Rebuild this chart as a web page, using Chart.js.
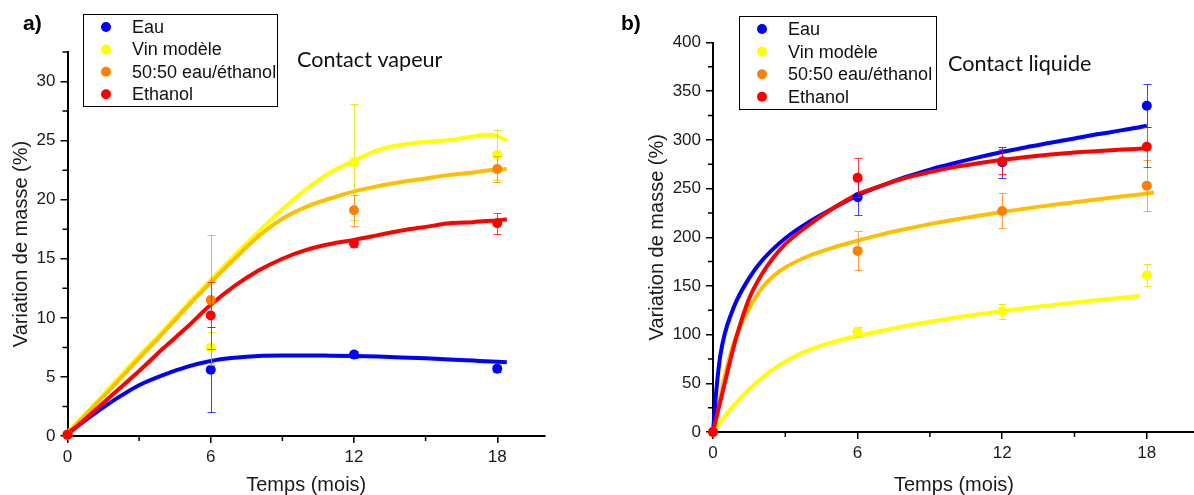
<!DOCTYPE html>
<html>
<head>
<meta charset="utf-8">
<script src="https://cdn.jsdelivr.net/npm/chart.js@4.4.0/dist/chart.umd.min.js"></script>
<style>
html, body { margin: 0; padding: 0; background: #fff; overflow: hidden; }
#wrap { position: relative; width: 1194px; height: 495px; }
.panel { position: absolute; top: 0; width: 600px; height: 495px; }
#panelA { left: 0; }
#panelB { left: 600px; }
</style>
</head>
<body>
<div id="wrap">
  <div class="panel" id="panelA"><canvas id="chartA" width="600" height="495"></canvas></div>
  <div class="panel" id="panelB"><canvas id="chartB" width="600" height="495"></canvas></div>
</div>
<script>
// ---- data ----
const seriesNames = ['Eau', 'Vin modèle', '50:50 eau/éthanol', 'Ethanol'];
const months = [0, 6, 12, 18];
const xTicks = [0, 6, 12, 18];
const xMinorTicks = [3, 9, 15];

// a) Contact vapeur - measured points and error bars
const vapEau = [0.1, 5.6, 6.9, 5.7];
const vapVin = [0.1, 7.5, 23.2, 23.8];
const vapMix = [0.1, 11.5, 19.1, 22.6];
const vapEth = [0.1, 10.2, 16.3, 18.0];
const vapEauErr = [0, 3.6, 0.3, 0.3];
const vapVinErr = [0, 1.3, 4.9, 2.1];
const vapMixErr = [0, 5.5, 1.3, 1.1];
const vapEthErr = [0, 2.8, 0.3, 0.9];

// a) fitted curves
const fitMonthsA = [0, 1, 2, 3, 4, 5, 6, 7, 8, 9, 10, 11, 12, 13, 14, 15, 16, 17, 17.5, 18, 18.4];
const fitVapEau = [0.2, 1.7, 3.1, 4.3, 5.15, 5.85, 6.35, 6.62, 6.78, 6.82, 6.82, 6.8, 6.77, 6.72, 6.65, 6.57, 6.48, 6.38, 6.33, 6.28, 6.24];
const fitVapVin = [0.3, 2.4, 4.6, 6.8, 8.9, 11.1, 13.2, 15.3, 17.3, 19.2, 20.9, 22.3, 23.3, 24.2, 24.65, 24.9, 25.05, 25.35, 25.5, 25.4, 25.0];
const fitVapMix = [0.2, 2.3, 4.4, 6.6, 8.7, 10.9, 13.0, 15.0, 16.9, 18.4, 19.4, 20.1, 20.7, 21.15, 21.5, 21.8, 22.1, 22.3, 22.45, 22.55, 22.6];
const fitVapEth = [0.1, 1.9, 3.7, 5.5, 7.4, 9.2, 11.1, 12.7, 14.0, 15.0, 15.75, 16.25, 16.6, 17.0, 17.4, 17.7, 18.0, 18.1, 18.2, 18.25, 18.35];

const yTicksA = [0, 5, 10, 15, 20, 25, 30];
const yMinorA = [2.5, 7.5, 12.5, 17.5, 22.5, 27.5, 32.5];

// b) Contact liquide - measured points and error bars
const liqEau = [0, 241, 277, 335];
const liqVin = [0, 103, 124, 161];
const liqMix = [0, 186, 227, 253];
const liqEth = [0, 261, 278, 293];
const liqEauErr = [0, 18, 16, 22];
const liqVinErr = [0, 5, 7.5, 11.5];
const liqMixErr = [0, 20, 18, 26.5];
const liqEthErr = [0, 20, 13, 20.5];

// b) fitted curves
const fitMonthsB = [0, 0.15, 0.3, 0.5, 0.75, 1, 1.5, 2, 2.5, 3, 4, 5, 6, 7, 8, 9, 10, 11, 12, 13, 14, 15, 16, 17, 17.7, 18, 18.3];
const fitLiqEau = [0, 46, 78, 102, 121, 136, 158, 175, 188, 199, 216, 230, 243, 253, 262, 269.5, 276, 282, 287.5, 292.5, 297, 301.5, 306, 310, 313, 314.5, null];
const fitLiqVin = [0, 5, 10, 16.5, 24, 31, 44, 55, 64.5, 72.5, 84.5, 92.5, 98.5, 104, 109, 113.3, 117.3, 121, 124.3, 127.4, 130.3, 133, 135.5, 138, 139.8, null, null];
const fitLiqMix = [0, 18, 36, 58, 82, 101, 127, 147, 160, 169, 181, 189.5, 196.5, 203, 208.5, 213.5, 218, 222, 226, 229.5, 233, 236, 239, 242, 244, 245, 246];
const fitLiqEth = [0, 15.5, 31, 51.5, 77, 100, 137, 161, 179, 193, 213, 230, 244, 253, 261, 267, 272, 276, 279.5, 282.5, 285, 287, 288.5, 290, 291, 291.5, null];

const yTicksB = [0, 50, 100, 150, 200, 250, 300, 350, 400];
const yMinorB = [25, 75, 125, 175, 225, 275, 325, 375];

// ---- styles ----
const markerColors = ['#0000ff', '#ffff00', '#ff8000', '#ff0000'];
const curveColors = ['#0000ff', '#ffff00', '#ffbf00', '#ff0000'];
const errColors = ['rgba(0,0,255,0.75)', 'rgba(235,225,0,0.85)', 'rgba(255,128,0,0.7)', 'rgba(255,0,0,0.75)'];
const curveOrder = [7, 9, 8, 6];   // red on top, yellow at the back
const FONT = "'Liberation Sans', Arial, sans-serif";

function toPoints(xs, ys) {
    return xs.map((x, i) => (ys[i] == null ? null : { x: x, y: ys[i] })).filter(Boolean);
}

function buildDatasets(fitMonths, fits, values, errs) {
    const out = [];
    fits.forEach((f, i) => {
        out.push({
            label: seriesNames[i] + ' (fit)',
            data: toPoints(fitMonths, f),
            showLine: true,
            borderColor: curveColors[i],
            borderWidth: 4,
            pointRadius: 0,
            cubicInterpolationMode: 'monotone',
            order: curveOrder[i],
            clip: false
        });
    });
    values.forEach((v, i) => {
        out.push({
            label: seriesNames[i],
            data: toPoints(months, v),
            errors: errs[i],
            errorColor: errColors[i],
            showLine: false,
            pointRadius: 5,
            pointBorderWidth: 0,
            pointBackgroundColor: markerColors[i],
            order: 4 - i,
            clip: false
        });
    });
    return out;
}

// error bars are drawn just before each point dataset (over the curves)
const errorBars = {
    id: 'errorBars',
    beforeDatasetDraw(chart, args) {
        const ds = chart.data.datasets[args.index];
        if (!ds.errors) return;
        const ctx = chart.ctx;
        const xs = chart.scales.x, ys = chart.scales.y;
        ctx.save();
        ctx.strokeStyle = ds.errorColor;
        ctx.lineWidth = 1;
        ds.data.forEach((p, i) => {
            const e = ds.errors[i];
            if (!e) return;
            const px = Math.round(xs.getPixelForValue(p.x)) + 0.5;
            const top = Math.round(ys.getPixelForValue(p.y + e)) + 0.5;
            const bot = Math.round(ys.getPixelForValue(p.y - e)) + 0.5;
            ctx.beginPath();
            ctx.moveTo(px, top); ctx.lineTo(px, bot);
            ctx.moveTo(px - 4, top); ctx.lineTo(px + 4, top);
            ctx.moveTo(px - 4, bot); ctx.lineTo(px + 4, bot);
            ctx.stroke();
        });
        ctx.restore();
    }
};

// minor ticks, legend box, panel letter and note
const decor = {
    id: 'decor',
    afterDraw(chart, args, opts) {
        const ctx = chart.ctx;
        const area = chart.chartArea;
        const xs = chart.scales.x, ys = chart.scales.y;
        ctx.save();
        ctx.strokeStyle = '#000';
        ctx.lineWidth = 1.5;
        ctx.beginPath();
        opts.yMinor.forEach(v => {
            const py = ys.getPixelForValue(v);
            ctx.moveTo(area.left - 5, py); ctx.lineTo(area.left, py);
        });
        xMinorTicks.forEach(v => {
            const px = xs.getPixelForValue(v);
            ctx.moveTo(px, area.bottom); ctx.lineTo(px, area.bottom + 5);
        });
        ctx.stroke();

        // legend
        const lg = opts.legend;
        ctx.lineWidth = 1;
        ctx.strokeStyle = '#000';
        ctx.fillStyle = '#fff';
        ctx.fillRect(lg.x, lg.y, lg.w, lg.h);
        ctx.strokeRect(lg.x + 0.5, lg.y + 0.5, lg.w, lg.h);
        ctx.font = '18px ' + FONT;
        ctx.textBaseline = 'middle';
        ctx.textAlign = 'left';
        seriesNames.forEach((name, i) => {
            const cy = lg.y + lg.rowTop + i * lg.rowGap;
            ctx.fillStyle = markerColors[i];
            ctx.beginPath();
            ctx.arc(lg.markerX, cy, 5, 0, Math.PI * 2);
            ctx.fill();
            ctx.fillStyle = '#111';
            ctx.fillText(name, lg.textX, cy + 1);
        });

        ctx.fillStyle = '#000';
        ctx.font = 'bold 21px ' + FONT;
        ctx.fillText(opts.letter, opts.letterX, 24);

        ctx.fillStyle = '#111';
        ctx.font = '21.6px Lato, sans-serif';
        ctx.fillText(opts.note, opts.noteX, opts.noteY);
        ctx.restore();
    }
};

function makeChart(id, cfg) {
    return new Chart(document.getElementById(id), {
        type: 'scatter',
        data: { datasets: cfg.datasets },
        options: {
            responsive: false,
            animation: false,
            events: [],
            layout: { padding: { left: cfg.padLeft, top: cfg.top, right: 600 - cfg.right, bottom: 0 } },
            plugins: {
                legend: { display: false },
                tooltip: { enabled: false },
                decor: cfg.decor
            },
            scales: {
                x: {
                    type: 'linear',
                    min: 0,
                    max: 20,
                    afterBuildTicks: s => { s.ticks = xTicks.map(v => ({ value: v })); },
                    afterFit: s => { s.height = 495 - cfg.bottom; },
                    grid: { display: true, drawOnChartArea: false, drawTicks: true, tickLength: 7, color: '#000', lineWidth: 1.5 },
                    border: { display: true, color: '#000', width: 2 },
                    ticks: { color: '#1a1a1a', font: { family: FONT, size: 17 }, padding: 4, maxRotation: 0 },
                    title: { display: true, text: 'Temps (mois)', color: '#1a1a1a', font: { family: FONT, size: 20, lineHeight: 1 }, padding: 0 }
                },
                y: {
                    type: 'linear',
                    min: 0,
                    max: cfg.yMax,
                    afterBuildTicks: s => { s.ticks = cfg.yTicks.map(v => ({ value: v })); },
                    afterFit: s => { s.width = cfg.left - cfg.padLeft; },
                    grid: { display: true, drawOnChartArea: false, drawTicks: true, tickLength: 7, color: '#000', lineWidth: 1.5 },
                    border: { display: true, color: '#000', width: 2 },
                    ticks: { color: '#1a1a1a', font: { family: FONT, size: 17 }, padding: 5 },
                    title: { display: true, text: 'Variation de masse (%)', color: '#1a1a1a', font: { family: FONT, size: 20 }, padding: { top: 4, bottom: 0 } }
                }
            }
        },
        plugins: [errorBars, decor]
    });
}

makeChart('chartA', {
    datasets: buildDatasets(fitMonthsA,
        [fitVapEau, fitVapVin, fitVapMix, fitVapEth],
        [vapEau, vapVin, vapMix, vapEth],
        [vapEauErr, vapVinErr, vapMixErr, vapEthErr]),
    padLeft: 5, left: 67.5, right: 545, top: 52, bottom: 436,
    yMax: 32.5, yTicks: yTicksA,
    decor: {
        yMinor: yMinorA,
        letter: 'a)', letterX: 23,
        note: 'Contact vapeur', noteX: 297, noteY: 60,
        legend: { x: 83, y: 14, w: 194, h: 92, markerX: 106, textX: 132, rowTop: 13, rowGap: 22.4 }
    }
});

makeChart('chartB', {
    datasets: buildDatasets(fitMonthsB,
        [fitLiqEau, fitLiqVin, fitLiqMix, fitLiqEth],
        [liqEau, liqVin, liqMix, liqEth],
        [liqEauErr, liqVinErr, liqMixErr, liqEthErr]),
    padLeft: 41, left: 113, right: 597, top: 42.5, bottom: 432,
    yMax: 400, yTicks: yTicksB,
    decor: {
        yMinor: yMinorB,
        letter: 'b)', letterX: 21,
        note: 'Contact liquide', noteX: 348, noteY: 64,
        legend: { x: 139, y: 16, w: 197, h: 93, markerX: 162, textX: 188, rowTop: 13, rowGap: 22.6 }
    }
});
</script>
</body>
</html>
